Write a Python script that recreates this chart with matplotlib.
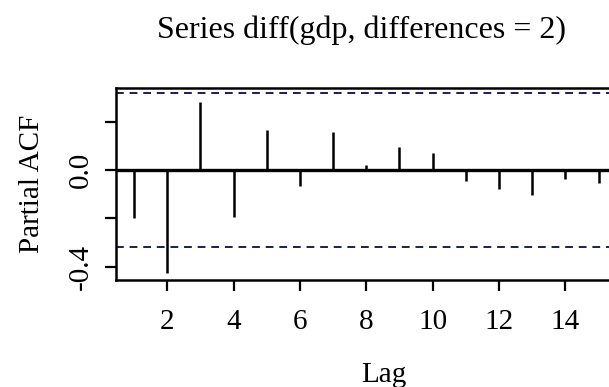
import numpy as np
import matplotlib
matplotlib.use('Agg')
import matplotlib.pyplot as plt

plt.rcParams['font.family'] = ['Liberation Serif', 'DejaVu Serif']

lags = [1, 2, 3, 4, 5, 6, 7, 8, 9, 10, 11, 12, 13, 14, 15, 16]
pacf = [-0.197, -0.428, 0.28, -0.195, 0.166, -0.066, 0.156, 0.02,
        0.097, 0.072, -0.044, -0.079, -0.104, -0.036, -0.052, -0.03]
ci = 0.32
xticks = [2, 4, 6, 8, 10, 12, 14]
yticks = [-0.4, -0.2, 0.0, 0.2]
ytick_labels = ['-0.4', '', '0.0', '']

fig = plt.figure(figsize=(6.09, 3.87), dpi=100)
ax = fig.add_axes([0.19, 0.2765, 0.88, 0.497])

ax.vlines(lags, 0, pacf, color='black', linewidth=1.8)
ax.axhline(0, color='black', linewidth=2.4)
ax.axhline(ci, color='#1c1c5a', linestyle=(0, (4, 3)), linewidth=1.4)
ax.axhline(-ci, color='#1c1c5a', linestyle=(0, (4, 3)), linewidth=1.4)

ax.set_xlim(0.45, 16.6)
ax.set_ylim(-0.455, 0.341)
ax.set_xticks(xticks)
ax.set_yticks(yticks)
ax.set_yticklabels(ytick_labels, rotation=90, va='center')
ax.tick_params(axis='x', direction='out', length=8, width=1.6, labelsize=21, pad=13)
ax.tick_params(axis='y', direction='out', length=8, width=1.6, labelsize=21, pad=8)

for side in ['left', 'bottom', 'top']:
    ax.spines[side].set_linewidth(1.8)
ax.spines['right'].set_visible(False)

ax.set_xlabel('Lag', fontsize=21, labelpad=19)
ax.set_ylabel('Partial ACF', fontsize=21, labelpad=16)
fig.suptitle('Series diff(gdp, differences = 2)', fontsize=23, x=0.593, y=0.96)

plt.savefig('out.png', dpi=100)
